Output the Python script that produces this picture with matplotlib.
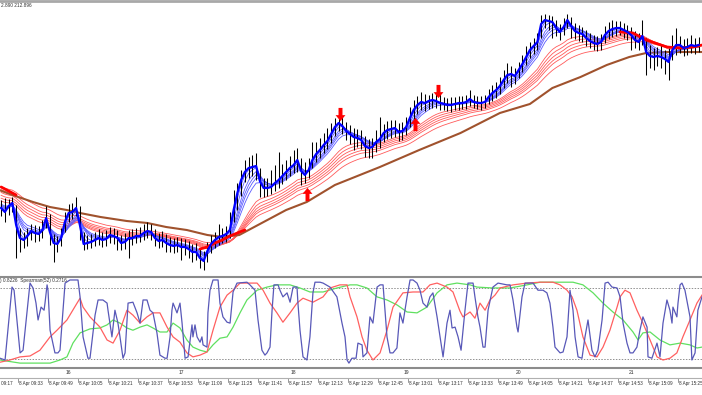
import numpy as np
import matplotlib
matplotlib.use('Agg')
import matplotlib.pyplot as plt
from matplotlib.path import Path
from matplotlib.transforms import blended_transform_factory

plt.rcParams['font.family'] = ['Liberation Sans', 'DejaVu Sans']

# time axis = minutes after 09:00 on 8 Apr, bars grouped by 2 minutes
BAR_START = 24
BAR_STEP = 2

CLOSE = [
    212.727, 212.723, 212.729, 212.732, 212.710, 212.697, 212.695, 212.699, 212.704, 212.702,
    212.701, 212.705, 212.717, 212.703, 212.692, 212.691, 212.697, 212.713, 212.722, 212.723,
    212.727, 212.710, 212.691, 212.692, 212.693, 212.695, 212.697, 212.695, 212.696, 212.700,
    212.699, 212.697, 212.692, 212.693, 212.697, 212.697, 212.699, 212.699, 212.702, 212.704,
    212.703, 212.697, 212.694, 212.695, 212.692, 212.690, 212.689, 212.690, 212.688, 212.688,
    212.686, 212.683, 212.683, 212.677, 212.674, 212.684, 212.691, 212.695, 212.698, 212.699,
    212.701, 212.705, 212.725, 212.742, 212.755, 212.763, 212.767, 212.768, 212.769, 212.754,
    212.747, 212.747, 212.748, 212.752, 212.755, 212.759, 212.763, 212.767, 212.770, 212.775,
    212.764, 212.760, 212.765, 212.775, 212.781, 212.785, 212.790, 212.794, 212.801, 212.808,
    212.812, 212.809, 212.804, 212.801, 212.798, 212.797, 212.795, 212.789, 212.787, 212.788,
    212.793, 212.796, 212.802, 212.805, 212.806, 212.807, 212.803, 212.804, 212.808, 212.817,
    212.825, 212.830, 212.833, 212.832, 212.834, 212.835, 212.834, 212.832, 212.831, 212.830,
    212.830, 212.831, 212.832, 212.832, 212.833, 212.836, 212.833, 212.832, 212.832, 212.833,
    212.838, 212.842, 212.845, 212.849, 212.855, 212.860, 212.861, 212.859, 212.865, 212.871,
    212.878, 212.885, 212.889, 212.893, 212.911, 212.915, 212.914, 212.913, 212.907, 212.903,
    212.908, 212.915, 212.909, 212.904, 212.902, 212.901, 212.897, 212.894, 212.892, 212.891,
    212.893, 212.900, 212.904, 212.906, 212.907, 212.907, 212.905, 212.903, 212.900, 212.895,
    212.893, 212.899, 212.883, 212.879, 212.878, 212.879, 212.878, 212.876, 212.873, 212.885,
    212.890, 212.890, 212.887, 212.888, 212.890, 212.889, 212.890]

HIGH = [
    212.735, 212.737, 212.736, 212.738, 212.730, 212.707, 212.703, 212.707, 212.711, 212.710,
    212.709, 212.715, 212.729, 212.721, 212.701, 212.699, 212.707, 212.723, 212.731, 212.732,
    212.738, 212.729, 212.703, 212.700, 212.701, 212.703, 212.706, 212.703, 212.705, 212.708,
    212.707, 212.705, 212.700, 212.702, 212.705, 212.706, 212.707, 212.708, 212.711, 212.713,
    212.711, 212.706, 212.702, 212.704, 212.701, 212.698, 212.697, 212.698, 212.697, 212.696,
    212.694, 212.691, 212.692, 212.686, 212.684, 212.693, 212.700, 212.703, 212.711, 212.707,
    212.709, 212.723, 212.745, 212.752, 212.765, 212.775, 212.778, 212.780, 212.782, 212.767,
    212.757, 212.757, 212.765, 212.770, 212.783, 212.771, 212.775, 212.779, 212.785, 212.787,
    212.777, 212.773, 212.777, 212.793, 212.793, 212.797, 212.802, 212.807, 212.812, 212.817,
    212.820, 212.818, 212.813, 212.810, 212.807, 212.806, 212.805, 212.799, 212.796, 212.797,
    212.805, 212.818, 212.811, 212.814, 212.815, 212.815, 212.812, 212.813, 212.818, 212.828,
    212.835, 212.839, 212.843, 212.841, 212.840, 212.842, 212.841, 212.841, 212.838, 212.837,
    212.838, 212.838, 212.839, 212.839, 212.840, 212.845, 212.840, 212.839, 212.839, 212.840,
    212.846, 212.850, 212.853, 212.858, 212.865, 212.872, 212.869, 212.867, 212.873, 212.880,
    212.889, 212.893, 212.897, 212.902, 212.920, 212.921, 212.920, 212.919, 212.915, 212.911,
    212.917, 212.921, 212.918, 212.912, 212.910, 212.908, 212.905, 212.902, 212.900, 212.899,
    212.901, 212.909, 212.913, 212.915, 212.914, 212.914, 212.912, 212.910, 212.908, 212.904,
    212.902, 212.915, 212.897, 212.890, 212.887, 212.888, 212.890, 212.885, 212.887, 212.900,
    212.907, 212.899, 212.896, 212.897, 212.900, 212.897, 212.898]

LOW = [
    212.719, 212.713, 212.720, 212.723, 212.677, 212.683, 212.687, 212.689, 212.695, 212.693,
    212.694, 212.697, 212.707, 212.690, 212.673, 212.683, 212.689, 212.703, 212.713, 212.716,
    212.719, 212.695, 212.685, 212.686, 212.687, 212.689, 212.690, 212.688, 212.689, 212.692,
    212.691, 212.685, 212.685, 212.686, 212.677, 212.690, 212.692, 212.693, 212.695, 212.697,
    212.695, 212.689, 212.687, 212.688, 212.683, 212.683, 212.682, 212.683, 212.675, 212.680,
    212.677, 212.673, 212.675, 212.667, 212.665, 212.673, 212.682, 212.687, 212.690, 212.692,
    212.693, 212.697, 212.713, 212.725, 212.739, 212.753, 212.757, 212.759, 212.755, 212.738,
    212.738, 212.739, 212.741, 212.744, 212.747, 212.751, 212.755, 212.759, 212.762, 212.763,
    212.750, 212.752, 212.757, 212.767, 212.773, 212.777, 212.782, 212.786, 212.792, 212.799,
    212.804, 212.801, 212.795, 212.791, 212.785, 212.788, 212.786, 212.778, 212.777, 212.777,
    212.783, 212.787, 212.793, 212.796, 212.797, 212.798, 212.794, 212.795, 212.800, 212.808,
    212.816, 212.821, 212.825, 212.824, 212.826, 212.827, 212.827, 212.825, 212.825, 212.824,
    212.823, 212.825, 212.825, 212.826, 212.826, 212.829, 212.827, 212.826, 212.825, 212.827,
    212.831, 212.834, 212.837, 212.841, 212.847, 212.852, 212.848, 212.851, 212.857, 212.863,
    212.870, 212.877, 212.881, 212.885, 212.897, 212.907, 212.905, 212.897, 212.899, 212.895,
    212.900, 212.907, 212.897, 212.896, 212.894, 212.893, 212.889, 212.887, 212.885, 212.884,
    212.885, 212.892, 212.896, 212.898, 212.899, 212.900, 212.897, 212.895, 212.885, 212.887,
    212.885, 212.890, 212.860, 212.867, 212.865, 212.869, 212.867, 212.861, 212.855, 212.875,
    212.880, 212.882, 212.879, 212.880, 212.882, 212.881, 212.883]

# GMMA: short group (blue) and long group (red), values at the left edge
SHORT_PERIODS = [3, 5, 8, 10, 12, 15]
SHORT_START = [212.727, 212.728, 212.729, 212.730, 212.731, 212.732]
LONG_PERIODS = [30, 35, 40, 45, 50, 60]
LONG_START = [212.735, 212.738, 212.741, 212.744, 212.747, 212.750]

# slow moving average (brown)
BROWN_T = [23, 30, 41, 50, 59, 66, 77, 91, 102, 112, 123, 134, 142, 151, 162,
           176, 187, 202, 226, 247, 269, 290, 306, 318, 333, 347, 359, 368, 379, 398]
BROWN = [212.745, 212.740, 212.733, 212.728, 212.725, 212.722, 212.718, 212.714,
         212.712, 212.708, 212.705, 212.700, 212.698, 212.700, 212.711, 212.725,
         212.733, 212.750, 212.768, 212.785, 212.802, 212.822, 212.831, 212.847,
         212.858, 212.870, 212.878, 212.882, 212.883, 212.883]

# bold red trend line, only where it shows
RED_A_T = [24, 26, 28, 30, 32]
RED_A = [212.748, 212.746, 212.744, 212.742, 212.740]
RED_B_T = [130, 134, 138, 142, 146, 150, 154]
RED_B = [212.686, 212.688, 212.692, 212.695, 212.699, 212.702, 212.705]
RED_C_T = [354, 361, 368, 379, 386, 393, 398]
RED_C = [212.903, 212.902, 212.895, 212.888, 212.887, 212.888, 212.890]

# signal arrows
UP_T = [187, 245]
UP_P = [212.741, 212.811]
DN_T = [205, 257]
DN_P = [212.821, 212.844]

# Spearman oscillator window
BLUE_T = [23.4, 26.1, 29.8, 30.9, 34.1, 35.7, 39.4, 41.0, 42.6, 43.7, 45.3, 46.9, 47.4, 48.5,
          49.0, 50.1, 52.7, 54.3, 55.4, 58.1, 60.7, 65.0, 66.1, 67.7, 70.3, 71.4, 74.1, 75.7,
          78.3, 80.5, 81.0, 83.1, 84.7, 86.3, 87.4, 89.0, 90.1, 91.7, 94.3, 96.5, 98.1, 99.7,
          101.8, 103.4, 105.0, 107.1, 108.7, 111.4, 112.5, 114.1, 115.1, 115.7, 117.8, 119.4,
          120.5, 122.1, 123.7, 125.8, 126.3, 127.4, 128.5, 130.1, 131.1, 131.7, 133.8, 134.3,
          135.4, 137.0, 139.7, 140.7, 142.3, 144.5, 146.1, 147.7, 149.8, 155.1, 156.7, 159.4,
          161.0, 163.1, 164.7, 165.8, 167.4, 168.5, 169.5, 171.7, 172.7, 174.3, 176.5, 178.1,
          179.7, 181.8, 182.3, 183.4, 185.0, 187.1, 188.7, 190.3, 191.4, 194.1, 195.7, 199.4,
          203.1, 205.8, 207.4, 208.5, 209.5, 211.1, 213.3, 214.3, 216.5, 217.0, 219.1, 220.7,
          222.3, 224.5, 226.1, 227.7, 229.8, 231.4, 233.0, 235.1, 236.7, 238.3, 240.5, 242.1,
          243.7, 245.8, 247.4, 249.0, 251.1, 252.7, 254.3, 256.5, 258.1, 259.7, 261.8, 263.4,
          264.5, 266.1, 267.7, 269.3, 271.4, 273.0, 275.7, 276.7, 278.3, 279.4, 281.0, 282.1,
          283.7, 286.3, 289.0, 293.8, 295.4, 297.0, 299.1, 299.7, 301.8, 303.4, 307.7, 310.3,
          313.0, 315.1, 316.7, 318.3, 319.4, 322.1, 323.7, 325.8, 327.4, 329.0, 330.1, 331.7,
          333.8, 335.4, 337.0, 339.1, 340.7, 342.3, 344.5, 346.1, 347.7, 349.8, 352.5, 354.1,
          355.7, 357.8, 359.4, 361.0, 363.1, 364.7, 366.3, 368.5, 369.0, 371.1, 373.8, 375.4,
          377.0, 379.1, 380.7, 381.8, 382.3, 384.4, 385.0, 386.1, 387.1, 388.7, 391.4, 392.4,
          394.1, 395.6, 397.8]
BLUE = [-0.78, -0.82, 0.82, 0.75, -0.66, -0.60, 0.91, 0.80, 0.46, 0.08, 0.37, 0.30, 0.46, 0.87,
        0.75, -0.15, -0.66, -0.66, -0.60, 0.91, 0.98, 0.98, 0.60, -0.30, -0.78, -0.78, 0.19, 0.53,
        0.53, 0.46, 0.30, -0.30, 0.30, 0.01, -0.30, -0.78, -0.66, 0.46, 0.48, 0.24, 0.01, 0.53,
        0.53, 0.30, 0.24, -0.21, -0.71, -0.78, -0.78, -0.30, 0.30, 0.46, 0.24, 0.46,
        0.01, -0.78, -0.75, -0.03, -0.30, -0.03, -0.30, -0.42, -0.30, -0.48, -0.53, 0.24,
        0.75, 0.98, 0.98, 0.46, 0.15, 0.03, 0.01, 0.71, 0.91, 0.93, 0.87, 0.75,
        0.08, -0.60, -0.71, -0.66, -0.53, 0.30, 0.87, 0.87, 0.75, 0.60, 0.69, 0.48,
        0.82, 0.82, 0.46, -0.15, -0.75, -0.82, -0.30, 0.69, 0.93, 0.93, 0.91, 0.82,
        0.60, 0.01, -0.30, -0.82, -0.89, -0.78, -0.78, -0.44, -0.48, -0.75, -0.66, 0.15,
        0.01, 0.82, 0.87, 0.87, -0.30, -0.66, -0.66, -0.55, 0.24, 0.01, 0.60, 0.98,
        0.98, 0.91, 0.75, 0.46, 0.37, 0.60, 0.69, 0.15, -0.30, -0.75, 0.01, 0.30,
        -0.10, -0.08, -0.30, -0.60, 0.30, 0.91, 0.91, 0.60, 0.15, -0.08, -0.53, -0.53,
        0.30, 0.82, 0.91, 0.87, 0.87, 0.53, -0.08, -0.19, 0.60, 0.91, 0.91, 0.75,
        0.75, 0.69, 0.46, -0.08, -0.53, -0.66, -0.64, -0.30, 0.75, 0.30, -0.30, -0.75,
        -0.78, -0.30, 0.08, -0.60, -0.75, -0.60, 0.08, 0.91, 0.93, 0.82, 0.80, 0.60,
        0.01, -0.44, -0.66, -0.66, -0.53, -0.15, 0.15, -0.08, -0.75, -0.78, -0.44, -0.75,
        0.01, 0.53, 0.30, 0.01, 0.37, 0.15, 0.46, 0.87, 0.91, 0.75, 0.15, -0.82,
        -0.66, 0.30, 0.60]

RED_T = [23.4, 28.7, 34.1, 39.4, 44.7, 50.1, 53.8, 59.1, 64.5, 66.1, 67.7, 71.4, 76.7, 80.5,
         83.7, 87.4, 91.1, 94.3, 98.1, 101.8, 105.0, 108.7, 112.5, 115.7, 119.4, 123.1, 126.3,
         130.1, 133.8, 137.0, 140.7, 144.5, 147.7, 151.4, 156.7, 160.5, 163.7, 167.4, 171.1,
         174.3, 178.1, 181.8, 185.0, 190.3, 195.7, 199.4, 204.7, 208.5, 210.1, 213.8, 216.5,
         219.1, 222.3, 226.1, 229.8, 233.0, 238.3, 243.7, 249.0, 252.7, 256.5, 261.8, 265.0,
         268.7, 270.3, 274.1, 276.7, 279.4, 282.1, 284.7, 287.4, 290.1, 297.0, 304.5, 311.4,
         318.3, 322.1, 325.8, 328.5, 331.1, 334.3, 338.1, 341.8, 345.0, 348.7, 352.5, 354.1,
         356.7, 359.4, 363.1, 366.3, 370.1, 373.8, 377.0, 380.7, 384.4, 387.6, 391.4, 395.1,
         397.8]
RED = [-0.87, -0.82, -0.75, -0.73, -0.60, -0.30, -0.15, 0.08, 0.46, 0.57, 0.37, 0.15, -0.08,
       -0.37, -0.44, -0.15, 0.30, 0.19, 0.01, 0.15, 0.24, 0.24, -0.08, -0.30, -0.42, -0.66,
       -0.75, -0.71, -0.64, -0.15, 0.37, 0.64, 0.75, 0.91, 0.91, 0.91, 0.75, 0.46, 0.24,
       0.03, 0.24, 0.46, 0.57, 0.48, 0.60, 0.80, 0.87, 0.87, 0.60, 0.15, -0.30,
       -0.60, -0.82, -0.66, -0.15, 0.37, 0.69, 0.71, 0.71, 0.87, 0.91, 0.82, 0.71,
       0.28, 0.15, 0.26, 0.12, 0.46, 0.30, 0.53, 0.64, 0.80, 0.87, 0.91, 0.93,
       0.93, 0.87, 0.75, 0.60, 0.30, -0.30, -0.71, -0.75, -0.53, -0.15, 0.37, 0.60,
       0.75, 0.69, 0.30, 0.01, -0.37, -0.75, -0.82, -0.78, -0.66, -0.30, 0.08, 0.46,
       0.64]

GREEN_T = [23.4, 34.1, 44.7, 50.1, 55.4, 59.1, 62.3, 66.1, 71.4, 76.7, 80.5, 83.7, 87.4, 91.1,
           94.3, 98.1, 101.8, 105.0, 108.7, 112.5, 115.7, 119.4, 123.1, 126.3, 130.1, 133.8,
           137.0, 140.7, 144.5, 147.7, 151.4, 155.1, 160.5, 165.8, 171.1, 178.1, 183.4, 188.7,
           195.7, 203.1, 210.1, 213.8, 219.1, 224.5, 229.8, 235.1, 240.5, 245.8, 251.1, 256.5,
           261.8, 267.1, 274.1, 277.8, 286.3, 295.4, 304.5, 311.4, 322.1, 329.0, 334.3, 339.7,
           345.0, 350.3, 355.7, 361.0, 363.7, 366.3, 370.1, 375.4, 380.7, 386.1, 391.4, 395.1,
           397.8]
GREEN = [-0.82, -0.89, -0.89, -0.89, -0.82, -0.75, -0.44, -0.21, -0.12, -0.10, -0.03, 0.08,
         0.01, -0.10, -0.15, -0.08, -0.03, -0.10, -0.19, -0.19, 0.01, -0.10, -0.37, -0.53,
         -0.60, -0.64, -0.48, -0.33, -0.30, -0.08, 0.24, 0.53, 0.75, 0.82, 0.87, 0.87, 0.80,
         0.71, 0.71, 0.80, 0.87, 0.87, 0.80, 0.60, 0.53, 0.42, 0.26, 0.24, 0.37, 0.69, 0.87,
         0.91, 0.87, 0.82, 0.80, 0.80, 0.87, 0.93, 0.93, 0.93, 0.87, 0.69, 0.46, 0.26, 0.08,
         -0.19, -0.37, -0.21, -0.19, -0.37, -0.48, -0.44, -0.48, -0.55, -0.53]

LEVELS = [0.8, -0.8]

HOUR_T = [60, 120, 180, 240, 300, 360]
HOUR_LABELS = ['16', '17', '18', '19', '20', '21']
TIME_LABELS = ['09:17', '09:33', '09:49', '10:05', '10:21', '10:37', '10:53', '11:09',
               '11:25', '11:41', '11:57', '12:13', '12:29', '12:45', '13:01', '13:17',
               '13:33', '13:49', '14:05', '14:21', '14:37', '14:53', '15:09', '15:25']


def ema(values, period, start):
    # one bar here spans BAR_STEP minutes of the M1 average
    a = 1 - (1 - 2.0 / (period + 1)) ** BAR_STEP
    out = []
    e = start
    for v in values:
        e += a * (v - e)
        out.append(e)
    return out


def block_arrow(up):
    verts = [(-0.3, -1), (0.3, -1), (0.3, 0.1), (0.75, 0.1), (0, 1), (-0.75, 0.1), (-0.3, 0.1), (-0.3, -1)]
    if not up:
        verts = [(x, -y) for x, y in verts]
    codes = [Path.MOVETO] + [Path.LINETO] * 6 + [Path.CLOSEPOLY]
    return Path(verts, codes)


W, H = 702, 395
fig = plt.figure(figsize=(W / 100, H / 100), dpi=100)
fig.patch.set_facecolor('white')

def fy(py):
    return 1 - py / H

ax = fig.add_axes([0, fy(275), 1, (275 - 3) / H])
ax2 = fig.add_axes([0, fy(368), 1, (368 - 277) / H])

bar_t = BAR_START + BAR_STEP * np.arange(len(CLOSE))

# main price window
for p, s in zip(LONG_PERIODS, LONG_START):
    ax.plot(bar_t, ema(CLOSE, p, s), color='#ff5a5a', lw=0.6, zorder=1)
ax.plot(BROWN_T, BROWN, color='#a0522d', lw=1.5, zorder=2)
for p, s in zip(SHORT_PERIODS, SHORT_START):
    ax.plot(bar_t, ema(CLOSE, p, s), color='#5a5aff', lw=0.6, zorder=2)
ax.vlines(bar_t, LOW, HIGH, color='black', lw=0.75, zorder=3)
for tt, pp in [(RED_A_T, RED_A), (RED_B_T, RED_B), (RED_C_T, RED_C)]:
    ax.plot(tt, pp, color='#ff0000', lw=2.0, zorder=4, solid_capstyle='round')
ax.plot(bar_t, CLOSE, color='#0000ff', lw=1.6, zorder=4)
ax.scatter(UP_T, UP_P, marker=block_arrow(True), s=90, color='#ff0000', zorder=5, linewidths=0)
ax.scatter(DN_T, DN_P, marker=block_arrow(False), s=90, color='#ff0000', zorder=5, linewidths=0)

ax.set_xlim(23.4, 397.8)
ax.set_ylim(212.660, 212.932)
ax.set_xticks([])
ax.set_yticks([])
for sp in ax.spines.values():
    sp.set_visible(False)

# oscillator window
ax2.plot(BLUE_T, BLUE, color='#5858b8', lw=0.9, zorder=3)
ax2.plot(RED_T, RED, color='#ff6060', lw=0.9, zorder=2)
ax2.plot(GREEN_T, GREEN, color='#60e060', lw=0.9, zorder=1)
for lv in LEVELS:
    ax2.axhline(lv, color='#909090', lw=0.7, ls=(0, (1.5, 1.5)), zorder=0)
ax2.set_xlim(23.4, 397.8)
ax2.set_ylim(-1.0, 1.047)
ax2.set_xticks([])
ax2.set_yticks([])
for k in ['left', 'right']:
    ax2.spines[k].set_visible(False)
for k in ['top', 'bottom']:
    ax2.spines[k].set_color('#8c8c8c')
    ax2.spines[k].set_linewidth(1.5)
ax2.text(0.0, 0.985, ') 0.8226  Spearman(52) 0.2716', transform=ax2.transAxes,
         fontsize=3.4, color='#303030', va='top', ha='left')

# window frame and captions
fig.add_artist(plt.Line2D([0, 1], [fy(1), fy(1)], color='#a8a8a8', lw=2))
fig.text(0.001, fy(5.5), '2.890 212.896', fontsize=3.4, color='#303030', va='center', ha='left')

trans = blended_transform_factory(ax2.transData, fig.transFigure)
for t, lab in zip(HOUR_T, HOUR_LABELS):
    ax2.text(t, fy(372), lab, transform=trans, fontsize=3.6, color='#303030',
             ha='center', va='center', clip_on=False)
fig.add_artist(plt.Line2D([0, 1], [fy(378), fy(378)], color='#b0b0b0', lw=0.8))
for lab in TIME_LABELS:
    hh, mm = lab.split(':')
    t = (int(hh) - 9) * 60 + int(mm)
    ax2.plot([t, t], [fy(378), fy(382)], transform=trans, color='#707070', lw=0.5, clip_on=False)
    ax2.text(t + 0.5, fy(383.5), '8 Apr ' + lab, transform=trans, fontsize=3.3,
             color='#303030', ha='left', va='center', clip_on=False)

fig.savefig('out.png', dpi=100)
